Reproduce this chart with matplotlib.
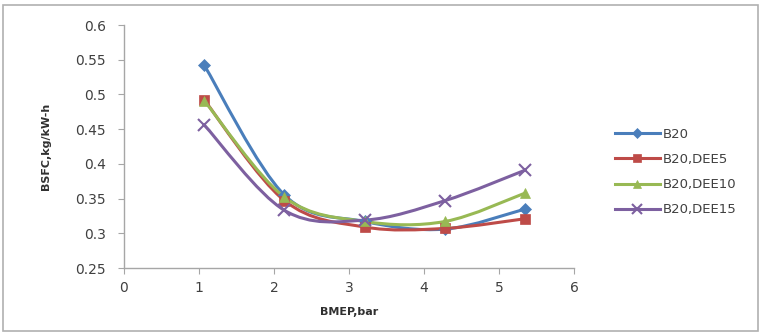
import numpy as np
import matplotlib
matplotlib.use('Agg')
import matplotlib.pyplot as plt
from matplotlib.path import Path
from matplotlib.patches import PathPatch, Rectangle
from matplotlib.lines import Line2D

# Данные
bmep = [1.07, 2.14, 3.21, 4.28, 5.35]
b20 = [0.542, 0.355, 0.317, 0.306, 0.335]
b20_dee5 = [0.492, 0.347, 0.309, 0.307, 0.321]
b20_dee10 = [0.491, 0.352, 0.317, 0.317, 0.358]
b20_dee15 = [0.456, 0.333, 0.319, 0.347, 0.391]
series_names = ['B20', 'B20,DEE5', 'B20,DEE10', 'B20,DEE15']

colors = ['#4A7EBB', '#BE4B48', '#98B954', '#7D60A0']
markers = ['D', 's', '^', 'x']
msizes = [6, 7, 7, 8]


def smooth_path(x, y):
    """Сглаженная линия как в Excel: кубические Безье через точки"""
    x = np.asarray(x, float)
    y = np.asarray(y, float)
    verts = [(x[0], y[0])]
    codes = [Path.MOVETO]
    n = len(x)
    for i in range(n - 1):
        x0, y0 = (x[i - 1], y[i - 1]) if i > 0 else (x[i], y[i])
        x3, y3 = (x[i + 2], y[i + 2]) if i + 2 < n else (x[i + 1], y[i + 1])
        c1 = (x[i] + (x[i + 1] - x0) / 6, y[i] + (y[i + 1] - y0) / 6)
        c2 = (x[i + 1] - (x3 - x[i]) / 6, y[i + 1] - (y3 - y[i]) / 6)
        verts += [c1, c2, (x[i + 1], y[i + 1])]
        codes += [Path.CURVE4] * 3
    return Path(verts, codes)


fig = plt.figure(figsize=(7.62, 3.35), dpi=100)
fig.patches.append(Rectangle((3 / 762, 4 / 335), 755 / 762, 326 / 335,
                             transform=fig.transFigure, fill=False,
                             edgecolor='#b0b0b0', linewidth=1.2))

ax = fig.add_axes([124 / 762, 1 - 268 / 335, 450 / 762, 243 / 335])

all_series = [b20, b20_dee5, b20_dee10, b20_dee15]
handles = []
for vals, name, c, m, ms in zip(all_series, series_names, colors, markers, msizes):
    ax.add_patch(PathPatch(smooth_path(bmep, vals), fill=False,
                           edgecolor=c, linewidth=2.2, zorder=2))
    mew = 1.5 if m == 'x' else 0.5
    ax.plot(bmep, vals, linestyle='none', marker=m, markersize=ms,
            color=c, markeredgecolor=c, markeredgewidth=mew, zorder=3)
    handles.append(Line2D([0], [0], color=c, linewidth=2.2, marker=m,
                          markersize=ms - 1, markeredgewidth=mew, label=name))

ax.set_xlim(0, 6)
ax.set_ylim(0.25, 0.6)
ax.set_xticks(range(0, 7))
ax.set_yticks(np.arange(0.25, 0.601, 0.05))
ax.set_yticklabels(['0.25', '0.3', '0.35', '0.4', '0.45', '0.5', '0.55', '0.6'])

for side in ['top', 'right']:
    ax.spines[side].set_visible(False)
for side in ['left', 'bottom']:
    ax.spines[side].set_color('#a6a6a6')
    ax.spines[side].set_linewidth(1.0)
ax.tick_params(axis='both', colors='#a6a6a6', labelcolor='#404040',
               labelsize=10, length=4, direction='out')
ax.tick_params(axis='x', pad=5)
ax.tick_params(axis='y', pad=9)

ax.set_xlabel('BMEP,bar', fontsize=8, fontweight='bold', color='#303030', labelpad=9)
ax.set_ylabel('BSFC,kg/kW-h', fontsize=8, fontweight='bold', color='#303030',
              family='Liberation Sans Narrow')
ax.yaxis.set_label_coords(-0.163, 0.5)

fig.legend(handles=handles, loc='upper left', bbox_to_anchor=(603 / 762, 1 - 116 / 335),
           frameon=False, fontsize=9.5, handlelength=3.4, labelspacing=0.92,
           handletextpad=0.2, labelcolor='#404040')

fig.savefig('out.png', dpi=100)
